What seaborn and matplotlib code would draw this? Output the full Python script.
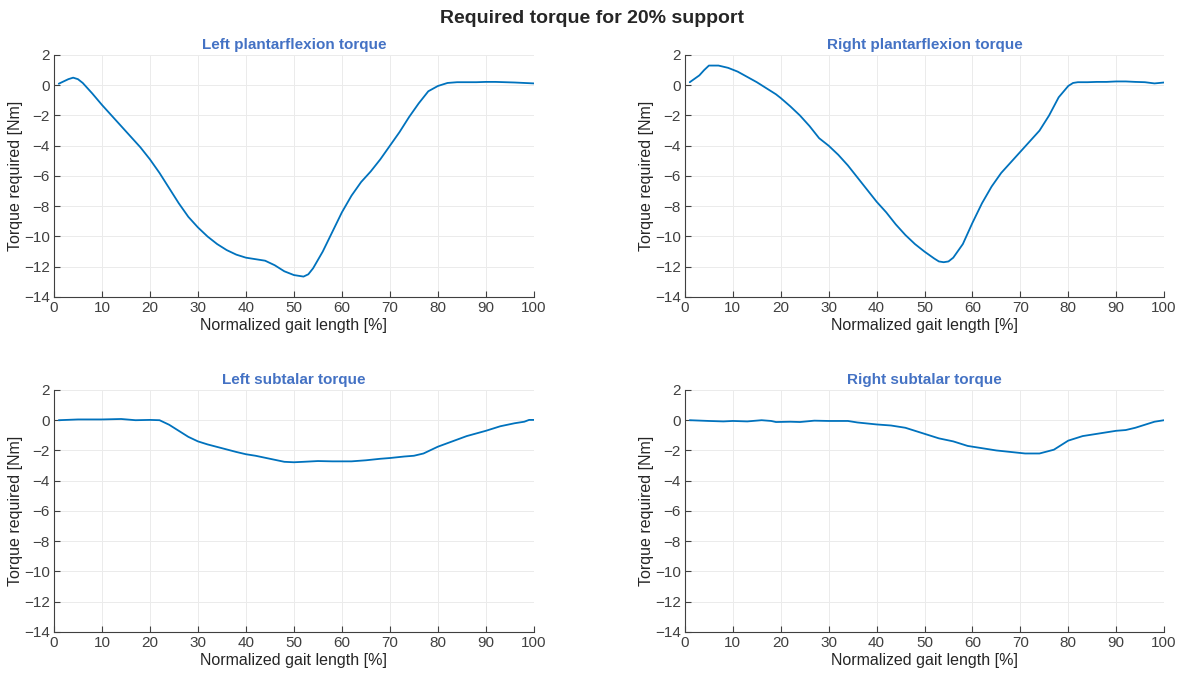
import matplotlib
matplotlib.use("Agg")
import matplotlib.pyplot as plt
import seaborn as sns
import pandas as pd

# --- data (x = normalized gait length [%], y = torque [Nm]) ---
left_pf_x = [1, 2, 3, 4, 5, 6, 7, 8, 10, 12, 14, 16, 18, 20, 22, 24, 26, 28, 30, 32, 34, 36,
             38, 40, 42, 44, 46, 48, 50, 52, 53, 54, 56, 58, 60, 62, 64, 66, 68, 70, 72, 74,
             76, 78, 80, 82, 84, 86, 88, 90, 92, 94, 96, 98, 100]
left_pf_y = [0.1, 0.25, 0.4, 0.5, 0.4, 0.15, -0.2, -0.55, -1.3, -2.0, -2.7, -3.4, -4.1, -4.9,
             -5.8, -6.8, -7.8, -8.7, -9.4, -10.0, -10.5, -10.9, -11.2, -11.4, -11.5, -11.6,
             -11.9, -12.3, -12.55, -12.65, -12.5, -12.1, -11.0, -9.7, -8.4, -7.3, -6.4, -5.7,
             -4.9, -4.0, -3.1, -2.1, -1.2, -0.4, -0.05, 0.15, 0.2, 0.2, 0.2, 0.22, 0.22, 0.2,
             0.18, 0.15, 0.12]

right_pf_x = [1, 3, 4, 5, 7, 9, 11, 13, 15, 17, 19, 20, 22, 24, 26, 28, 30, 32, 34, 36, 38, 40,
              42, 44, 46, 48, 50, 52, 53, 54, 55, 56, 58, 60, 62, 64, 66, 68, 70, 72, 74, 76,
              78, 80, 81, 82, 84, 86, 88, 90, 92, 94, 96, 98, 100]
right_pf_y = [0.2, 0.65, 1.0, 1.3, 1.3, 1.15, 0.9, 0.55, 0.2, -0.2, -0.6, -0.85, -1.4, -2.0,
              -2.7, -3.5, -4.0, -4.6, -5.3, -6.1, -6.9, -7.7, -8.4, -9.2, -9.9, -10.5, -11.0,
              -11.45, -11.65, -11.7, -11.65, -11.4, -10.5, -9.1, -7.8, -6.7, -5.8, -5.1, -4.4,
              -3.7, -3.0, -2.0, -0.8, -0.05, 0.15, 0.2, 0.2, 0.22, 0.22, 0.25, 0.25, 0.22, 0.2,
              0.12, 0.18]

left_st_x = [1, 5, 10, 14, 17, 20, 22, 24, 26, 28, 30, 32, 35, 38, 40, 42, 45, 48, 50, 52, 55,
             58, 60, 62, 65, 68, 70, 73, 75, 77, 80, 83, 86, 90, 93, 96, 98, 99, 100]
left_st_y = [0.0, 0.05, 0.05, 0.08, 0.0, 0.02, 0.0, -0.3, -0.7, -1.1, -1.4, -1.6, -1.85, -2.1,
             -2.25, -2.35, -2.55, -2.75, -2.78, -2.75, -2.7, -2.72, -2.72, -2.72, -2.65,
             -2.55, -2.5, -2.4, -2.35, -2.2, -1.75, -1.4, -1.05, -0.7, -0.4, -0.2, -0.1, 0.02,
             0.02]

right_st_x = [1, 5, 8, 10, 13, 16, 18, 19, 22, 24, 27, 30, 34, 36, 40, 43, 46, 50, 53, 56, 59,
              62, 65, 68, 71, 74, 77, 80, 83, 86, 88, 90, 92, 94, 96, 98, 100]
right_st_y = [0.0, -0.05, -0.08, -0.05, -0.08, 0.0, -0.05, -0.12, -0.1, -0.12, -0.03, -0.05,
              -0.05, -0.15, -0.28, -0.35, -0.5, -0.9, -1.2, -1.4, -1.7, -1.85, -2.0, -2.1,
              -2.2, -2.2, -1.95, -1.35, -1.05, -0.9, -0.8, -0.7, -0.65, -0.5, -0.3, -0.1, 0.0]

titles = ["Left plantarflexion torque", "Right plantarflexion torque",
          "Left subtalar torque", "Right subtalar torque"]
series = [(left_pf_x, left_pf_y), (right_pf_x, right_pf_y),
          (left_st_x, left_st_y), (right_st_x, right_st_y)]

sns.set_theme(style="whitegrid")
plt.rcParams.update({
    "font.family": ["Liberation Sans", "DejaVu Sans"],
    "axes.edgecolor": "#262626",
    "grid.color": "#ebebeb",
    "grid.linewidth": 0.7,
})

fig = plt.figure(figsize=(11.83, 6.77), dpi=100)
positions = [
    [0.0456, 0.5613, 0.4057, 0.3575],
    [0.5790, 0.5613, 0.4050, 0.3575],
    [0.0456, 0.0665, 0.4057, 0.3575],
    [0.5790, 0.0665, 0.4050, 0.3575],
]

for pos, title, (xs, ys) in zip(positions, titles, series):
    ax = fig.add_axes(pos)
    df = pd.DataFrame({"x": xs, "y": ys})
    sns.lineplot(data=df, x="x", y="y", ax=ax, color="#0072BD", linewidth=1.3)
    ax.set_xlim(0, 100)
    ax.set_ylim(-14, 2)
    ax.set_xticks(range(0, 101, 10))
    ax.set_yticks(range(-14, 3, 2))
    ax.set_xlabel("Normalized gait length [%]", fontsize=11.5, color="#262626", labelpad=2)
    ax.set_ylabel("Torque required [Nm]", fontsize=11.5, color="#262626", labelpad=1)
    ax.set_title(title, fontsize=11, fontweight="bold", color="#4472C4", pad=4)
    ax.tick_params(axis="both", which="both", direction="in", length=4, width=0.8,
                   colors="#404040", labelsize=11, pad=3,
                   bottom=True, left=True)
    for side in ["top", "right"]:
        ax.spines[side].set_visible(False)
    for side in ["left", "bottom"]:
        ax.spines[side].set_color("#404040")
        ax.spines[side].set_linewidth(0.8)
    ax.set_facecolor("white")

fig.suptitle("Required torque for 20% support", fontsize=14, fontweight="bold",
             y=0.985, x=0.5)
fig.savefig("out.png", dpi=100, facecolor="white")
